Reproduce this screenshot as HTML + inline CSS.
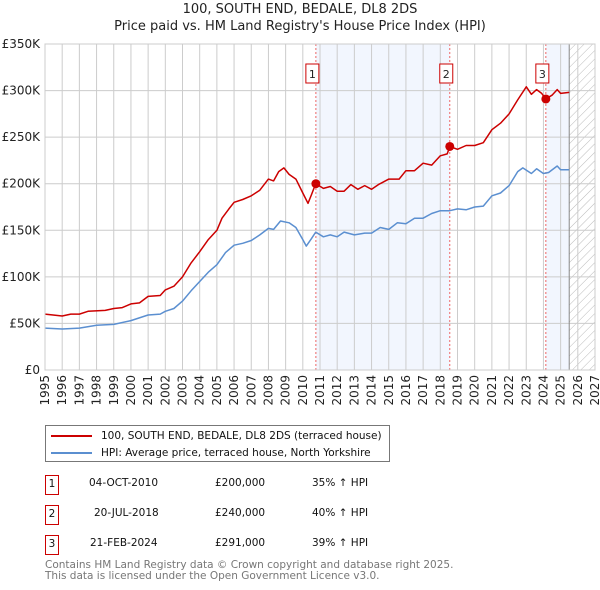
<!DOCTYPE html>
<html><head><meta charset="utf-8"><style>
body{margin:0;background:#fff;font-family:"DejaVu Sans","Liberation Sans",sans-serif;}
#wrap{position:relative;width:600px;height:590px;overflow:hidden;}
.t{position:absolute;white-space:nowrap;}
</style></head><body>
<div id="wrap">
<div class="t" style="left:0;width:600px;text-align:center;top:2px;font-size:13px;color:#222">100, SOUTH END, BEDALE, DL8 2DS</div>
<div class="t" style="left:0;width:600px;text-align:center;top:19px;font-size:13px;color:#222">Price paid vs. HM Land Registry's House Price Index (HPI)</div>
<svg id="chart" width="600" height="420" style="position:absolute;left:0;top:0" font-family="DejaVu Sans, Liberation Sans, sans-serif"></svg>

<div style="position:absolute;left:45px;top:425px;width:343px;height:35px;border:1px solid #777;font-size:10.5px;color:#111;white-space:nowrap">
 <div style="position:absolute;left:5px;top:4px"><span style="display:inline-block;width:41px;height:2px;background:#c00;vertical-align:middle;margin-right:9px"></span>100, SOUTH END, BEDALE, DL8 2DS (terraced house)</div>
 <div style="position:absolute;left:5px;top:21px"><span style="display:inline-block;width:41px;height:2px;background:#5b8fd0;vertical-align:middle;margin-right:9px"></span>HPI: Average price, terraced house, North Yorkshire</div>
</div>

<div style="font-size:10.5px;color:#111">
 <div>
  <div class="t" style="left:45px;top:475px;width:12px;height:18px;border:1px solid #c00;text-align:center;line-height:16px">1</div>
  <div class="t" style="left:89px;top:477px">04-OCT-2010</div>
  <div class="t" style="left:215px;top:477px">£200,000</div>
  <div class="t" style="left:312px;top:477px">35% ↑ HPI</div>
 </div>
 <div>
  <div class="t" style="left:45px;top:505px;width:12px;height:18px;border:1px solid #c00;text-align:center;line-height:16px">2</div>
  <div class="t" style="left:94px;top:507px">20-JUL-2018</div>
  <div class="t" style="left:215px;top:507px">£240,000</div>
  <div class="t" style="left:312px;top:507px">40% ↑ HPI</div>
 </div>
 <div>
  <div class="t" style="left:45px;top:535px;width:12px;height:18px;border:1px solid #c00;text-align:center;line-height:16px">3</div>
  <div class="t" style="left:90px;top:537px">21-FEB-2024</div>
  <div class="t" style="left:215px;top:537px">£291,000</div>
  <div class="t" style="left:312px;top:537px">39% ↑ HPI</div>
 </div>
</div>
<div class="t" style="left:45px;top:560px;font-size:10.5px;color:#777;line-height:11px">Contains HM Land Registry data © Crown copyright and database right 2025.<br>This data is licensed under the Open Government Licence v3.0.</div>
</div>
<script>
const yTicks=[0,50,100,150,200,250,300,350];
const yTickLabels=["£0","£50K","£100K","£150K","£200K","£250K","£300K","£350K"];
const xYears=[1995,1996,1997,1998,1999,2000,2001,2002,2003,2004,2005,2006,2007,2008,2009,2010,2011,2012,2013,2014,2015,2016,2017,2018,2019,2020,2021,2022,2023,2024,2025,2026,2027];
const redT=[1995,1996,1996.5,1997,1997.5,1998.5,1999,1999.5,2000,2000.5,2001,2001.7,2002,2002.5,2003,2003.5,2004,2004.5,2005,2005.3,2005.7,2006,2006.5,2007,2007.5,2008,2008.3,2008.6,2008.9,2009.2,2009.6,2010,2010.3,2010.5,2010.75,2011.2,2011.6,2012,2012.4,2012.8,2013.2,2013.6,2014,2014.4,2015,2015.6,2016,2016.5,2017,2017.5,2018,2018.4,2018.55,2019,2019.5,2020,2020.5,2021,2021.5,2022,2022.5,2023,2023.3,2023.6,2023.9,2024.14,2024.5,2024.8,2025,2025.5];
const redV=[60,58,60,60,63,64,66,67,71,72,79,80,86,90,100,115,127,140,150,163,173,180,183,187,193,205,203,213,217,210,205,190,179,188,200,195,197,192,192,199,194,198,194,199,205,205,214,214,222,220,230,232,240,237,241,241,244,258,265,275,290,304,296,301,297,291,295,301,297,298];
const blueT=[1995,1996,1997,1998,1999,2000,2001,2001.7,2002,2002.5,2003,2003.5,2004,2004.5,2005,2005.5,2006,2006.5,2007,2007.5,2008,2008.3,2008.7,2009.2,2009.6,2010,2010.2,2010.5,2010.75,2011.2,2011.6,2012,2012.4,2013,2013.6,2014,2014.5,2015,2015.5,2016,2016.5,2017,2017.5,2018,2018.55,2019,2019.5,2020,2020.5,2021,2021.5,2022,2022.5,2022.8,2023.3,2023.6,2024,2024.3,2024.8,2025,2025.5];
const blueV=[45,44,45,48,49,53,59,60,63,66,74,85,95,105,113,126,134,136,139,145,152,151,160,158,153,140,133,141,148,143,145,143,148,145,147,147,153,151,158,157,163,163,168,171,171,173,172,175,176,187,190,198,213,217,211,216,211,212,219,215,215];
const saleT=[2010.76,2018.55,2024.14];
const saleV=[200,240,291];
const saleLabels=["1","2","3"];

const NS="http://www.w3.org/2000/svg";
const svg=document.getElementById('chart');
const X0=45,X1=595,Y0=370,Y1=44;
const x=t=>X0+(t-1995)*(X1-X0)/32;
const y=v=>Y0-v*(Y0-Y1)/350;
function mk(tag,at,parent){const e=document.createElementNS(NS,tag);for(const k in at)e.setAttribute(k,at[k]);(parent||svg).appendChild(e);return e;}

const defs=mk('defs',{});
const pat=mk('pattern',{id:'hatch',width:6,height:6,patternUnits:'userSpaceOnUse',patternTransform:'rotate(45)'},defs);
mk('line',{x1:0,y1:0,x2:0,y2:6,stroke:'#bbb','stroke-width':1},pat);

let r=mk('rect',{x:x(saleT[0]),y:Y1,width:x(saleT[1])-x(saleT[0]),height:Y0-Y1,fill:'#f2f6fe'});

r=mk('rect',{x:x(saleT[2]),y:Y1,width:x(2025.5)-x(saleT[2]),height:Y0-Y1,fill:'#f2f6fe'});

r=mk('rect',{x:x(2025.5),y:Y1,width:X1-x(2025.5),height:Y0-Y1,fill:'url(#hatch)'});


xYears.forEach(t=>{const l=mk('line',{x1:x(t),x2:x(t),y1:Y1,y2:Y0,stroke:'#ccc','stroke-width':1});

const tx=mk('text',{transform:`translate(${x(t)+4},${Y0+5}) rotate(-90)`,'text-anchor':'end','font-size':12,fill:'#222'});
tx.textContent=t;});
yTicks.forEach((v,i)=>{const l=mk('line',{x1:X0,x2:X1,y1:y(v),y2:y(v),stroke:'#ccc','stroke-width':1});

const tx=mk('text',{x:40,y:y(v)+4,'text-anchor':'end','font-size':12,fill:'#222'});
tx.textContent=yTickLabels[i];});
r=mk('line',{x1:x(2025.5),x2:x(2025.5),y1:Y1,y2:Y0,stroke:'#888','stroke-width':1});


saleT.forEach((t,i)=>{const l=mk('line',{x1:x(t),x2:x(t),y1:Y1,y2:Y0,stroke:'#e66','stroke-width':1,'stroke-dasharray':'2,2'});

const g=mk('g',{});
mk('rect',{x:x(t)-10,y:64,width:13,height:19,fill:'#fff',stroke:'#c00','stroke-width':1},g);
const tx=mk('text',{x:x(t)-3.5,y:78,'text-anchor':'middle','font-size':11,fill:'#222'},g);tx.textContent=saleLabels[i];});

function path(T,V,col,name){const d=T.map((t,i)=>(i?'L':'M')+x(t).toFixed(1)+','+y(V[i]).toFixed(1)).join('');
const p=mk('path',{d:d,fill:'none',stroke:col,'stroke-width':1.5,'stroke-linejoin':'round'});
}
path(blueT,blueV,'#5b8fd0','hpi-line');
path(redT,redV,'#c00','property-price-line');
saleT.forEach((t,i)=>{const c=mk('circle',{cx:x(t),cy:y(saleV[i]),r:4.5,fill:'#c00'});
});
r=mk('rect',{x:X0,y:Y1,width:X1-X0,height:Y0-Y1,fill:'none',stroke:'#ccc'});

</script>
</body></html>
